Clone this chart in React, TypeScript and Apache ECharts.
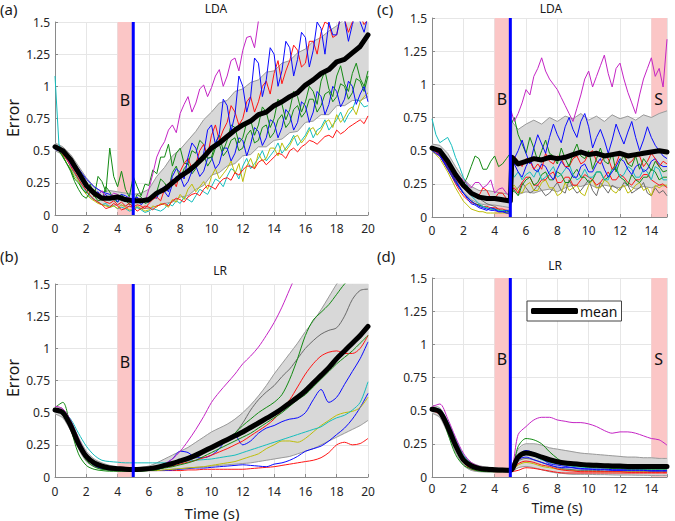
import React, { useEffect, useRef } from "react";
import * as echarts from "echarts";

// ---------- sample times (s) ----------
const timeLong = [0,0.5,1,1.5,2,2.5,3,3.5,4,4.5,5,5.5,6,6.5,7,7.5,8,8.5,9,9.5,10,10.5,11,11.5,12,12.5,13,13.5,14,14.5,15,15.5,16,16.5,17,17.5,18,18.5,19,19.5,20];
const timeFineA = [0,0.25,0.5,0.75,1,1.25,1.5,1.75,2,2.25,2.5,2.75,3,3.25,3.5,3.75,4,4.25,4.5,4.75,5,5.25,5.5,5.75,6,6.25,6.5,6.75,7,7.25,7.5,7.75,8,8.25,8.5,8.75,9,9.25,9.5,9.75,10,10.25,10.5,10.75,11,11.25,11.5,11.75,12,12.25,12.5,12.75,13,13.25,13.5,13.75,14,14.25,14.5,14.75,15,15.25,15.5,15.75,16,16.25,16.5,16.75,17,17.25,17.5,17.75,18,18.25,18.5,18.75,19,19.25,19.5,19.75,20];
const timeC = [0,0.5,1,1.5,2,2.5,3,3.5,4,4.5,5,5.1,5.5,6,6.5,7,7.5,8,8.5,9,9.5,10,10.5,11,11.5,12,12.5,13,13.5,14,14.5,15];
const timeFineC = [0,0.25,0.5,0.75,1,1.25,1.5,1.75,2,2.25,2.5,2.75,3,3.25,3.5,3.75,4,4.25,4.5,4.75,5,5.05,5.25,5.5,5.75,6,6.25,6.5,6.75,7,7.25,7.5,7.75,8,8.25,8.5,8.75,9,9.25,9.5,9.75,10,10.25,10.5,10.75,11,11.25,11.5,11.75,12,12.25,12.5,12.75,13,13.25,13.5,13.75,14,14.25,14.5,14.75,15];
const timeD = [0,0.5,1,1.5,2,2.5,3,3.5,4,4.5,5,5.5,6,6.5,7,7.5,8,8.5,9,9.5,10,10.5,11,11.5,12,12.5,13,13.5,14,14.5,15];

// ---------- events ----------
const switchTime = 5;
const regionsAB = [{ from: 4, to: 5, label: "B" }];
const regionsCD = [{ from: 4, to: 5, label: "B" }, { from: 14, to: 15, label: "S" }];
const regionLabelLevel = 0.89;

// ---------- ticks ----------
const yTicks = [0, 0.25, 0.5, 0.75, 1, 1.25, 1.5];
const xStep = 2;

// ---------- (a) LDA, error x100 ----------
const meanA = [53,50,43,33,23,17,13,13,14,12,11,11,12,17,20,25,30,34,39,45,52,56,61,66,70,73,78,80,85,88,92,95,101,105,110,113,119,121,126,131,140];
const bandHiA = [56,53,47,38,29,22,18,19,18,17,16,17,20,30,37,46,51,58,65,74,80,87,89,96,98,103,105,111,112,118,120,126,129,135,138,143,147,152,154,161,168];
const bandLoA = [50,47,39,28,18,12,8,7,8,7,6,5,5,7,9,10,14,15,20,23,31,33,38,40,46,47,53,53,58,59,64,65,72,73,78,78,85,85,89,89,92];
const cyanA = [108,55,48,44,37,32,27,21,18,14,12,10,8,9,6,7,5,6,5,3,4,6,4,2,3,5,4,3,5,9,7,11,9,14,12,10,15,20,18,16,22,28,26,22,30,36,34,28,38,44,36,40,44,50,42,46,50,56,48,52,56,62,54,58,62,68,60,66,68,74,66,70,74,80,72,78,82,90,88,84,85];
const yellowA = [52,50,46,40,36,30,26,20,16,13,11,9,8,7,6,7,5,8,6,4,4,7,5,3,4,7,6,9,8,6,12,10,16,12,20,24,18,22,26,20,30,36,28,32,36,42,32,40,26,38,44,36,48,42,44,52,52,46,56,50,54,60,62,56,60,66,68,62,66,72,74,68,78,72,76,82,84,78,88,92,95];
const red2A = [52,50,47,43,38,33,28,23,19,15,12,10,8,5,6,9,7,4,5,7,6,3,5,7,6,4,7,8,9,7,11,13,12,10,14,16,17,15,20,23,22,20,25,28,29,27,33,31,35,38,38,36,41,43,39,42,45,48,47,44,50,52,49,53,55,58,57,55,58,61,62,60,66,63,65,68,70,72,74,71,77];
const green2A = [52,50,46,40,34,26,20,15,13,18,15,11,12,22,18,12,10,16,12,8,9,16,14,9,10,15,18,28,25,20,33,38,28,36,40,32,36,44,47,38,43,52,55,46,50,58,60,50,52,62,66,56,58,68,70,60,64,74,78,68,72,82,85,76,80,90,90,80,85,94,96,88,92,102,100,90,95,106,104,96,108];
const blue2A = [52,51,48,45,40,35,31,27,22,20,17,18,14,16,12,15,10,14,11,13,9,12,8,11,10,14,13,20,18,14,24,30,30,22,26,34,38,30,34,44,45,36,40,52,52,42,48,60,58,46,55,68,65,54,60,74,72,60,68,82,78,66,72,88,85,72,80,96,92,78,86,100,96,84,90,104,100,86,94,100,88];
const greenA = [53,50,45,40,35,28,25,20,17,24,14,30,26,18,52,30,22,34,20,14,30,22,15,24,23,35,32,45,45,55,38,48,52,40,40,50,48,58,55,44,45,56,62,50,58,70,68,56,60,72,74,62,70,84,80,68,75,90,86,74,82,96,92,80,88,100,96,86,104,112,98,92,108,116,102,96,110,118,106,100,112];
const redA = [52,51,50,46,42,38,33,28,24,18,15,14,12,10,9,11,8,10,7,9,6,8,7,5,9,12,14,11,20,24,28,22,34,40,44,36,40,50,55,46,62,70,58,66,72,85,80,70,75,88,92,80,88,100,104,94,110,120,102,112,120,132,128,115,118,135,135,125,142,150,148,138,140,155,152,142,150,160,155,148,152];
const blueA = [51,50,49,47,44,40,36,32,28,25,22,20,18,17,16,14,14,16,15,13,12,14,10,12,11,14,16,20,22,18,30,36,33,28,45,56,52,40,48,66,70,55,63,90,85,65,78,108,100,80,92,122,118,92,105,130,125,100,112,135,130,108,121,142,138,115,128,150,145,125,150,140,140,155,152,135,148,158,150,142,155];
const magentaA = [52,50,48,44,39,35,31,27,24,20,17,15,19,13,14,17,16,12,11,14,10,12,13,10,20,32,45,52,57,66,70,64,79,86,92,80,87,98,101,92,99,108,113,100,108,120,122,112,128,138,139,130,151,158,160,165,168,172,175,178,182,185,188,191,195,198,201,204,207,210,213,216,219,222,225,228,231,234,237,240,243];

// ---------- (b) LR, error x100 ----------
const meanB = [52,50,40,26,16,11,8.5,7,6.5,6,5.8,6,6.5,7.5,9,10.5,12.5,14.5,17,20,23,26,29,32,35,38.5,42,45.5,49,53,57.5,62,67,73,79,85,92,98,104,110,117];
const bandHiB = [55,53,44,31,20,14,11,9,8,7.5,7,7.5,8.5,11,14,17,20,23,27,31,35,38,41,45,50,56,63,71,80,88,96,104,113,121,130,140,150,158,166,174,182];
const bandLoB = [49,46,36,22,12,8,6,5,4.5,4.5,4.5,4.5,5,5,5.5,6,6.5,7,7.5,8,8.5,9,9.5,10,10.5,11,12,13,14,15,16,18,20,22,25,28,31,34,37,40,44];
const magentaB = [55,53,44,30,18,12,9,7.5,6.5,6,6,6,6.5,7.5,10,14,20,28,37,47,58,66,73,80,88,94,101,110,120,132,146,160,175,190,205,220,235,250,265,280,295];
const greenB = [54,58,38,18,9,6,5,4.5,4.5,4.5,4.5,4.5,5,5.5,8,10,12,14,16,19,22,26,30,34,40,45,50,54,58,64,76,92,110,122,128,134,142,150,156,162,168];
const green2B = [52,50,39,24,13,8,6,5.5,5,5,5,5,5.5,6,7,8,9.5,11,13,16,19,22,25,28,31,34,38,42,46,50,55,60,64,70,76,82,88,93,98,104,110];
const grayB = [52,51,41,26,15,10,7.5,6.5,6,5.5,5.5,5.5,6,7,8,9.5,11,13,15,18,21,24,28,34,42,52,60,66,71,78,84,92,100,106,111,114,116,125,138,145,146];
const redB = [52,51,42,28,17,11,8,6.5,6,5.5,5.5,5.5,6,6.5,7.5,8.5,10,11.5,13,15,17,19.5,22,25,28,32,36,40,45,52,60,70,80,88,94,97,98,96,96,100,110];
const blueB = [52,50,41,27,16,10,7.5,6.5,6,5.5,5.5,5.5,6,7,10,14,20,19,15,15,17,22,30,32,25,28,34,38,40,43,45,46,50,60,68,58,62,72,82,92,105];
const cyanB = [53,51,45,34,24,17,13,12,11.5,11,11,11,11,11,11,11.5,12,12.5,13,13.5,14,15,16,17,19,21,23,25,27,29,31,33,35,37,39,43,46,48,52,58,74];
const yellowB = [51,49,40,27,16,10,7.5,6,5.5,5,5,5,5,5,5.5,6,6.5,7,7.5,8,9,10,11,12,14,16,18,22,25,28,28,27,30,35,40,44,48,50,51,54,62];
const blue2B = [51,49,40,26,15,9,6.5,5.5,5,5,5,5,5,5,5,5.5,6,6.5,7,7,7.5,8,8.5,9,9.5,9,8.5,8,10,11,13,16,20,22,24,28,33,38,45,54,65];
const red2B = [51,49,40,26,15,9,6.5,5.5,5,5,5,5,5,5,5,5,5,5.5,5.5,6,6,6,6,6,6,6.5,7,7.5,8,9,10,11,12,13,15,19,25,27,25,26,30];

// ---------- (c) LDA, error x100 ----------
const meanC = [52,50,42,32,24,18,15,14,14,13,12,45,40,42,44,43,45,44,45,47,49,47,48,46,47,48,46,47,48,49,50,49];
const bandHiC = [55,54,48,38,29,23,20,20,19,18,17,72,66,70,73,70,75,72,76,74,78,73,76,72,77,74,76,73,77,75,78,80];
const bandLoC = [49,46,37,27,19,13,10,9,9,8,7,20,17,19,18,20,21,19,22,24,23,25,22,24,23,22,24,21,23,22,24,23];
const magentaC = [51,50,48,44,40,37,34,30,28,25,22,26,26,22,24,28,18,21,22,18,15,80,72,78,86,96,92,106,112,120,110,104,100,96,90,84,78,72,82,92,104,110,98,106,114,122,108,98,112,116,104,94,86,78,92,104,112,120,106,112,98,134];
const blueC = [51,50,47,42,38,33,28,23,18,14,10,9,7,6,5,7,6,4,4,5,4,40,44,50,58,48,40,52,62,55,48,60,70,62,56,68,75,66,60,72,78,68,52,60,66,58,48,58,70,62,55,64,72,60,50,58,68,60,54,50,46,44];
const greenC = [52,51,50,45,40,35,30,26,24,30,38,46,44,36,36,42,46,38,40,44,48,70,75,62,55,48,60,52,42,50,58,48,46,40,52,44,38,48,55,46,44,50,36,44,52,42,40,48,34,42,46,40,38,46,36,44,40,35,42,38,34,35];
const redC = [53,51,48,43,38,33,28,25,22,20,18,17,16,22,20,14,14,18,18,14,12,30,46,42,38,44,42,36,40,36,48,42,40,46,44,38,38,44,46,40,42,48,50,42,40,46,44,36,40,48,48,40,42,46,46,38,42,48,44,38,42,40];
const cyanC = [74,62,56,58,60,54,45,38,30,24,16,13,10,8,7,6,6,5,5,5,5,36,30,34,28,32,34,30,36,28,30,34,38,30,32,36,40,32,28,30,36,30,30,34,34,28,28,36,38,30,32,38,36,30,30,36,34,28,38,36,28,28];
const yellowC = [50,47,44,39,34,28,22,17,12,9,6,5,4,4,3,3,3,3,3,3,3,22,24,20,18,24,26,20,20,26,28,22,22,16,18,26,20,22,24,18,16,24,28,22,22,28,26,20,18,22,24,18,20,24,26,20,22,16,24,22,24,24];
const grayC = [52,51,49,45,41,37,32,28,24,21,18,16,14,12,10,9,8,6,4,3,2,25,20,22,26,22,18,20,24,20,16,18,22,26,20,18,28,22,18,20,24,28,20,16,26,22,18,24,22,20,26,24,18,20,22,26,18,16,22,18,20,16];
const blue2C = [50,48,46,41,36,31,26,22,18,15,12,10,8,7,6,5,5,4,4,3,3,35,40,34,30,38,44,36,34,40,38,32,28,36,42,38,36,30,30,38,40,34,34,40,44,36,30,34,38,44,42,36,32,38,40,34,36,42,44,40,38,38];
const red2C = [51,49,46,41,36,31,25,20,16,13,11,10,9,8,8,7,7,6,6,5,5,20,22,18,26,30,30,24,24,28,28,32,34,26,26,30,30,24,24,28,32,30,28,24,26,30,34,28,28,32,30,26,24,28,28,32,32,28,26,24,25,22];
const green2C = [52,50,47,42,37,32,27,22,18,15,12,10,9,8,7,6,6,5,5,4,4,18,20,16,24,28,30,24,26,32,34,28,28,34,32,26,26,32,36,30,30,26,28,34,34,28,30,36,36,30,28,24,32,28,26,30,30,36,34,28,30,30];

// ---------- (d) LR, error x100 ----------
const meanD = [51,49,38,24,13,8.5,6.5,5.8,5.5,5.2,5,15,18,17,15,13,11.5,10.5,10,9.5,9,8.8,8.5,8.3,8.2,8,8,8,8,8,8];
const bandHiD = [54,52,42,28,16,11,8.5,7.5,7,6.5,6,21,25,25,24,22,21,20,19,18,17.5,17,16.5,16,15.5,15,15,14.5,14.5,14,14];
const bandLoD = [48,45,33,19,9,5,4,3.8,3.5,3.5,3.5,7,8,7,5.5,4,3,2.5,2,2,2,1.8,1.8,1.6,1.5,1.5,1.4,1.3,1.2,1.2,1.2];
const magentaD = [53,55,44,30,18,11,8,6.5,6,5.5,5,32,38,43,45,45,43,42,41,41,40,38,35,33,34,34,33,31,29,28,24];
const greenD = [52,50,33,17,9,6,4.5,4,4,4,4,23,29,28,25,19,14,10,9,8,7.5,7,7,6.5,6.5,6,6,6,6,6,6];
const blueD = [52,50,40,25,13,8,6,5.5,5,4.5,4,16,20,18,14,10,9,8,7,6,6,5.5,5.5,5,5,5,5,5,4.5,4.5,4.5];
const cyanD = [52,51,42,29,17,10,7,6,5.5,5,5,15,17,16,13,11,10,9,8,7.5,7,7,7,6.5,6.5,6.5,6.5,6,6,6,6];
const redD = [51,48,37,23,12,7,5.5,5,4.5,4.5,4.5,10,12,11,9,8,6,5,4.5,4,4,4,4,4,4,3.5,3.5,3.5,3.5,3.5,3.5];
const red2D = [50,47,36,22,11,6,5,4.5,4,4,4,5,7,6.5,5.5,4.5,3.5,3,3,3,3,3,3,3,3,3,3,3,3,3,3];
const yellowD = [51,48,38,24,13,8,6,5,5,4.5,4.5,9,11,10,8,7,6,5.5,5,4.5,4.5,4,4,4,4,4,4,4,4,4,4];
const grayD = [50,48,38,25,14,8,6,5,5,5,5,12,14,13,11,9,7,6,5.5,5,5,5,4.5,4.5,4.5,4.5,4.5,4.5,4.5,4.5,4.5];
const blue2D = [52,49,39,24,12,7,5.5,5,5,4.5,4.5,13,15,13,11,9,7.5,7,7,6.5,6,6,6,5.5,5.5,5.5,5.5,5.5,5,5,5];

// ---------- styles ----------
const FONT = "'Noto Sans', 'Open Sans', Arial, sans-serif";
const COL = {
  blue: "#0a0aff", green: "#138a13", red: "#ff1414", cyan: "#14bdbd",
  magenta: "#c424c4", yellow: "#bdbd0a", gray: "#6a6a6a",
};
const PINK = "#fbc6c6";
const BAND = "#d8d8d8";
const BAND_EDGE = "#9a9a9a";

type Line = { color: string; values: number[] };
type Panel = {
  time: number[]; lineTime: number[]; xMax: number; mean: number[]; lo: number[]; hi: number[];
  lines: Line[]; regions: { from: number; to: number; label: string }[]; smooth: boolean; labelGap: number;
};

const panels: Panel[] = [
  { time: timeLong, lineTime: timeFineA, xMax: 20, mean: meanA, lo: bandLoA, hi: bandHiA, regions: regionsAB, smooth: false, labelGap: 7,
    lines: [
      { color: COL.cyan, values: cyanA }, { color: COL.yellow, values: yellowA },
      { color: COL.red, values: red2A }, { color: COL.green, values: green2A },
      { color: COL.blue, values: blue2A }, { color: COL.green, values: greenA },
      { color: COL.red, values: redA }, { color: COL.blue, values: blueA },
      { color: COL.magenta, values: magentaA },
    ] },
  { time: timeLong, lineTime: timeLong, xMax: 20, mean: meanB, lo: bandLoB, hi: bandHiB, regions: regionsAB, smooth: true, labelGap: 8,
    lines: [
      { color: COL.red, values: red2B }, { color: COL.blue, values: blue2B },
      { color: COL.yellow, values: yellowB }, { color: COL.cyan, values: cyanB },
      { color: COL.blue, values: blueB }, { color: COL.red, values: redB },
      { color: COL.green, values: green2B }, { color: COL.gray, values: grayB },
      { color: COL.green, values: greenB }, { color: COL.magenta, values: magentaB },
    ] },
  { time: timeC, lineTime: timeFineC, xMax: 15, mean: meanC, lo: bandLoC, hi: bandHiC, regions: regionsCD, smooth: false, labelGap: 7,
    lines: [
      { color: COL.gray, values: grayC }, { color: COL.yellow, values: yellowC },
      { color: COL.red, values: red2C }, { color: COL.green, values: green2C },
      { color: COL.cyan, values: cyanC }, { color: COL.blue, values: blue2C },
      { color: COL.red, values: redC }, { color: COL.green, values: greenC },
      { color: COL.blue, values: blueC }, { color: COL.magenta, values: magentaC },
    ] },
  { time: timeD, lineTime: timeD, xMax: 15, mean: meanD, lo: bandLoD, hi: bandHiD, regions: regionsCD, smooth: true, labelGap: 5,
    lines: [
      { color: COL.red, values: red2D }, { color: COL.yellow, values: yellowD },
      { color: COL.gray, values: grayD }, { color: COL.red, values: redD },
      { color: COL.blue, values: blue2D }, { color: COL.cyan, values: cyanD },
      { color: COL.blue, values: blueD }, { color: COL.green, values: greenD },
      { color: COL.magenta, values: magentaD },
    ] },
];

// grid boxes: (a), (b), (c), (d)
const grids = [
  { left: 55, top: 22, width: 313, height: 193 },
  { left: 55, top: 284, width: 313, height: 193 },
  { left: 432, top: 18, width: 235, height: 199 },
  { left: 432, top: 278, width: 235, height: 199 },
];

const texts = [
  { text: "(a)", x: 0, y: 1, size: 15, align: "left" },
  { text: "LDA", x: 216, y: 2, size: 12, align: "center" },
  { text: "(c)", x: 377, y: 1, size: 15, align: "left" },
  { text: "LDA", x: 551, y: 2, size: 12, align: "center" },
  { text: "(b)", x: 0, y: 248, size: 15, align: "left" },
  { text: "LR", x: 220, y: 264, size: 12, align: "center" },
  { text: "(d)", x: 377, y: 248, size: 15, align: "left" },
  { text: "LR", x: 555, y: 259, size: 12, align: "center" },
  { text: "Time (s)", x: 212, y: 505, size: 15, align: "center" },
  { text: "Time (s)", x: 557, y: 500, size: 14, align: "center" },
];
const yNames = [
  { text: "Error", x: 13, y: 118 },
  { text: "Error", x: 13, y: 378 },
];

const pts = (t: number[], v: number[]) => t.map((x, i) => [x, v[i] / 100]);

function buildSeries(p: Panel, gi: number) {
  const ax = { xAxisIndex: gi, yAxisIndex: gi };
  const s: any[] = [];
  const yTop = yTicks[yTicks.length - 1];
  const sm = p.smooth ? 0.3 : false;
  p.regions.forEach((r) => {
    s.push({
      type: "line", ...ax, data: [[r.from, yTop], [r.to, yTop]], symbol: "none", silent: true,
      lineStyle: { width: 0, opacity: 0 }, areaStyle: { color: PINK, opacity: 1, origin: "start" }, z: 1,
    });
    s.push({
      type: "scatter", ...ax, data: [[(r.from + r.to) / 2 - 0.03, regionLabelLevel]], symbolSize: 0, silent: true,
      itemStyle: { color: "#111111", opacity: 1 }, z: 6,
      label: {
        show: true, formatter: r.label, position: "inside", fontSize: 16, color: "#111111",
        fontFamily: FONT, textBorderWidth: 0, opacity: 1,
      },
    });
  });
  // spread band (polygon between lower and upper bound, through the axis scales)
  s.push({
    type: "custom", ...ax, data: [[p.time[0], p.lo[0] / 100]], silent: true, z: 2,
    renderItem: (_params: any, api: any) => {
      const up = p.time.map((t, i) => api.coord([t, Math.min(p.hi[i] / 100, yTop)]));
      const dn = p.time.map((t, i) => api.coord([t, Math.min(p.lo[i] / 100, yTop)])).reverse();
      return { type: "polygon", shape: { points: up.concat(dn) }, style: { fill: BAND, stroke: BAND, lineWidth: 0.5 } };
    },
  });
  [p.lo, p.hi].forEach((edge) => {
    s.push({
      type: "line", ...ax, data: pts(p.time, edge), symbol: "none", silent: true,
      lineStyle: { color: BAND_EDGE, width: 1 }, smooth: sm, z: 2,
    });
  });
  p.lines.forEach((l) => {
    s.push({
      type: "line", ...ax, data: pts(p.lineTime, l.values), symbol: "none", silent: true,
      lineStyle: { color: l.color, width: 1 }, itemStyle: { color: l.color }, smooth: sm, z: 3,
    });
  });
  s.push({
    type: "line", name: "mean", ...ax, data: pts(p.time, p.mean), symbol: "none", silent: true,
    lineStyle: { color: "#000", width: 5, cap: "round", join: "round" }, itemStyle: { color: "#000" },
    smooth: sm, z: 4,
  });
  s.push({
    type: "line", ...ax, data: [[switchTime, yTicks[0]], [switchTime, yTop]], symbol: "none", silent: true,
    lineStyle: { color: "#0000ff", width: 3 }, z: 5,
  });
  return s;
}

const axisCommon = {
  axisLine: { show: true, lineStyle: { color: "#8a8a8a", width: 1 } },
  axisTick: { show: true, inside: true, length: 3, lineStyle: { color: "#8a8a8a" } },
  splitLine: { show: true, lineStyle: { color: "#e6e6e6", width: 1 } },
};

const option: any = {
  animation: false,
  backgroundColor: "#ffffff",
  grid: grids,
  xAxis: panels.map((p, gi) => ({
    type: "value", gridIndex: gi, min: 0, max: p.xMax, interval: xStep, ...axisCommon,
    axisLabel: {
      color: "#262626", fontSize: 12, lineHeight: 13, fontFamily: FONT, margin: p.labelGap,
      formatter: (v: number) => (v % xStep === 0 ? String(v) : ""),
    },
  })),
  yAxis: panels.map((_p, gi) => ({
    type: "value", gridIndex: gi, min: yTicks[0], max: yTicks[yTicks.length - 1], interval: yTicks[1] - yTicks[0],
    ...axisCommon,
    axisLabel: { color: "#262626", fontSize: 12, fontFamily: FONT, margin: 5 },
  })),
  legend: {
    data: [{ name: "mean", icon: "roundRect" }], left: 527, top: 301, itemWidth: 47, itemHeight: 6,
    padding: [3, 4, 3, 4], borderColor: "#444", borderWidth: 1, borderRadius: 0, backgroundColor: "#fff",
    selectedMode: false, itemStyle: { color: "#000" },
    textStyle: { fontSize: 14, color: "#111", fontFamily: FONT, padding: [0, 0, 0, -3] }, z: 10,
  },
  graphic: [
    ...texts.map((t) => ({
      type: "text", x: t.x, y: t.y, silent: true,
      style: {
        text: t.text, font: `${t.size}px ${FONT}`, fill: "#1a1a1a",
        textAlign: t.align, textVerticalAlign: "top", align: t.align, verticalAlign: "top",
      },
    })),
    ...yNames.map((t) => ({
      type: "text", x: t.x, y: t.y, rotation: Math.PI / 2, silent: true,
      style: {
        text: t.text, font: `16px ${FONT}`, fill: "#1a1a1a",
        textAlign: "center", textVerticalAlign: "middle", align: "center", verticalAlign: "middle",
      },
    })),
  ],
  series: panels.flatMap((p, gi) => buildSeries(p, gi)),
};

export default function App() {
  const ref = useRef<HTMLDivElement>(null);
  useEffect(() => {
    document.body.style.margin = "0";
    const chart = echarts.init(ref.current!, null, { renderer: "svg" });
    chart.setOption(option);
    return () => chart.dispose();
  }, []);
  return (
    <div
      ref={ref}
      style={{ position: "absolute", left: 0, top: 0, width: 675, height: 521, background: "#fff" }}
    />
  );
}
